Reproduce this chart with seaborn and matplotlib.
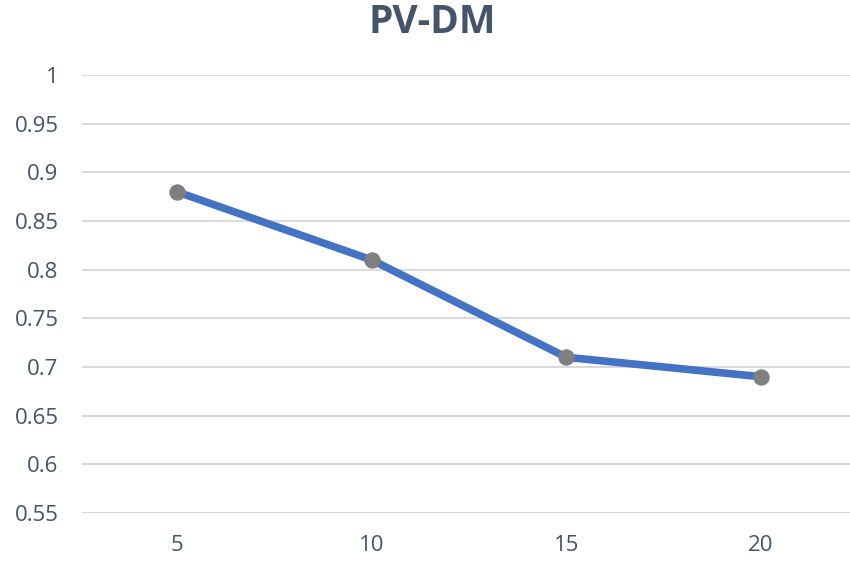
import matplotlib
matplotlib.use('Agg')
from matplotlib import pyplot as plt
import seaborn as sns
import pandas as pd

# data
window = ["5", "10", "15", "20"]
score = [0.88, 0.81, 0.71, 0.69]
yticks = [0.55, 0.6, 0.65, 0.7, 0.75, 0.8, 0.85, 0.9, 0.95, 1]
ytick_labels = ["0.55", "0.6", "0.65", "0.7", "0.75", "0.8", "0.85", "0.9", "0.95", "1"]

df = pd.DataFrame({"window": window, "score": score})

sns.set_style("white")
plt.rcParams['font.family'] = ['Open Sans', 'DejaVu Sans']

fig = plt.figure(figsize=(8.5, 5.67), dpi=100)
ax = fig.add_axes([0.0965, 0.0952, 0.9035, 0.7725])

sns.lineplot(data=df, x="window", y="score", ax=ax, color="#4472C4", linewidth=5.5,
             marker="o", markersize=11, markerfacecolor="#7F7F7F", markeredgecolor="#7F7F7F",
             sort=False)

ax.set_xlim(-0.488, 3.457)
ax.set_ylim(0.55, 1.0)
ax.set_yticks(yticks)
ax.set_yticklabels(ytick_labels)
ax.yaxis.grid(True, color="#D9D9D9", linewidth=1.4)
ax.set_axisbelow(True)
for s in ax.spines.values():
    s.set_visible(False)
ax.tick_params(axis='both', length=0, labelsize=16, colors="#44546A")
ax.tick_params(axis='y', pad=17)
ax.tick_params(axis='x', pad=16)
ax.set_xlabel("")
ax.set_ylabel("")

fig.suptitle("PV-DM", x=0.508, y=0.995, fontsize=28, fontweight="bold", color="#44546A")

fig.savefig("out.png", dpi=100)
